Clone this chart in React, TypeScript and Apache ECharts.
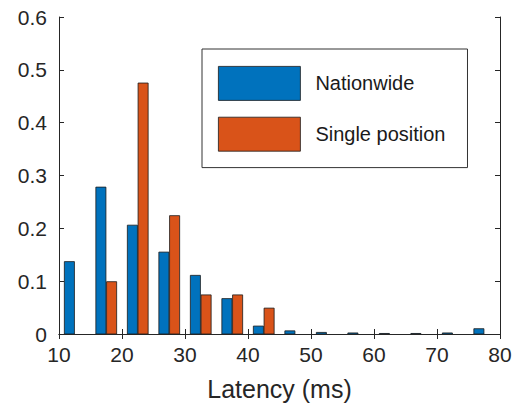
import React, { useEffect, useRef } from "react";
import * as echarts from "echarts";

const binCenters = [12.5, 17.5, 22.5, 27.5, 32.5, 37.5, 42.5, 47.5, 52.5, 57.5, 62.5, 67.5, 72.5, 77.5];
const nationwide = [0.137, 0.278, 0.206, 0.155, 0.111, 0.067, 0.015, 0.006, 0.003, 0.002, 0.001, 0.001, 0.002, 0.010];
const singlePosition = [0, 0.099, 0.475, 0.224, 0.074, 0.074, 0.049, 0, 0, 0, 0, 0, 0, 0];
const seriesNames = ["Nationwide", "Single position"];
const colors = ["#0072BD", "#D95319"];
const xTicks = [10, 20, 30, 40, 50, 60, 70, 80];
const yTicks = [0, 0.1, 0.2, 0.3, 0.4, 0.5, 0.6];

const FONT = "Liberation Sans, Arial, Helvetica, sans-serif";
const AXIS_COLOR = "#262626";

function makeSeries(name: string, values: number[], color: string, offset: number) {
  return {
    name,
    type: "custom",
    clip: true,
    data: binCenters.map((x, i) => [x, values[i]]),
    itemStyle: { color, borderColor: "#1a1a1a", borderWidth: 0.8 },
    renderItem: (params: any, api: any) => {
      const x = api.value(0);
      const y = api.value(1);
      if (!y) return null;
      const p0 = api.coord([x, 0]);
      const p1 = api.coord([x, y]);
      const unit = api.size([1, 0])[0];
      const w = 1.6 * unit;
      const cx = p0[0] + offset * unit;
      return {
        type: "rect",
        shape: { x: cx - w / 2, y: p1[1], width: w, height: p0[1] - p1[1] },
        style: { fill: color, stroke: "#1a1a1a", lineWidth: 0.8 },
      };
    },
  };
}

export default function App() {
  const ref = useRef<HTMLDivElement>(null);
  useEffect(() => {
    if (!ref.current) return;
    const chart = echarts.init(ref.current, undefined, { renderer: "svg" });
    const axisLine = { show: true, lineStyle: { color: AXIS_COLOR, width: 1 } };
    const tick = { show: true, inside: true, length: 5, lineStyle: { color: AXIS_COLOR, width: 1 } };
    chart.setOption({
      animation: false,
      backgroundColor: "#ffffff",
      grid: { left: 59, right: 16, top: 17, bottom: 75 },
      legend: {
        orient: "vertical",
        left: 202,
        top: 49,
        padding: [17, 22, 16, 16],
        itemGap: 16,
        itemWidth: 82,
        itemHeight: 34,
        borderColor: "#333333",
        borderWidth: 1,
        backgroundColor: "#ffffff",
        icon: "rect",
        data: seriesNames.map((n, i) => ({
          name: n,
          itemStyle: { color: colors[i], borderColor: "#1a1a1a", borderWidth: 0.8 },
        })),
        textStyle: { fontFamily: FONT, fontSize: 20, color: "#1a1a1a", padding: [0, 0, 0, 10] },
      },
      xAxis: [
        {
          type: "value",
          min: 10,
          max: 80,
          interval: 10,
          position: "bottom",
          name: "Latency (ms)",
          nameLocation: "middle",
          nameGap: 42,
          nameTextStyle: { fontFamily: FONT, fontSize: 25, color: "#262626" },
          axisLine,
          axisTick: tick,
          splitLine: { show: false },
          axisLabel: {
            fontFamily: FONT,
            fontSize: 21,
            color: "#262626",
            margin: 10,
            formatter: (v: number) => (xTicks.includes(v) ? String(v) : ""),
          },
        },
        {
          type: "value",
          min: 10,
          max: 80,
          interval: 10,
          position: "top",
          axisLine,
          axisTick: tick,
          splitLine: { show: false },
          axisLabel: { show: false },
        },
      ],
      yAxis: [
        {
          type: "value",
          min: 0,
          max: 0.6,
          interval: 0.1,
          position: "left",
          axisLine,
          axisTick: tick,
          splitLine: { show: false },
          axisLabel: {
            fontFamily: FONT,
            fontSize: 21,
            color: "#262626",
            margin: 12,
            formatter: (v: number) => {
              const t = yTicks.find((k) => Math.abs(k - v) < 1e-9);
              return t === undefined ? "" : String(Number(t.toFixed(1)));
            },
          },
        },
        {
          type: "value",
          min: 0,
          max: 0.6,
          interval: 0.1,
          position: "right",
          axisLine,
          axisTick: tick,
          splitLine: { show: false },
          axisLabel: { show: false },
        },
      ],
      series: [
        makeSeries(seriesNames[0], nationwide, colors[0], -0.85),
        makeSeries(seriesNames[1], singlePosition, colors[1], 0.85),
      ],
    });
    return () => chart.dispose();
  }, []);
  return <div ref={ref} style={{ width: 516, height: 409, position: "absolute", left: 0, top: 0 }} />;
}
